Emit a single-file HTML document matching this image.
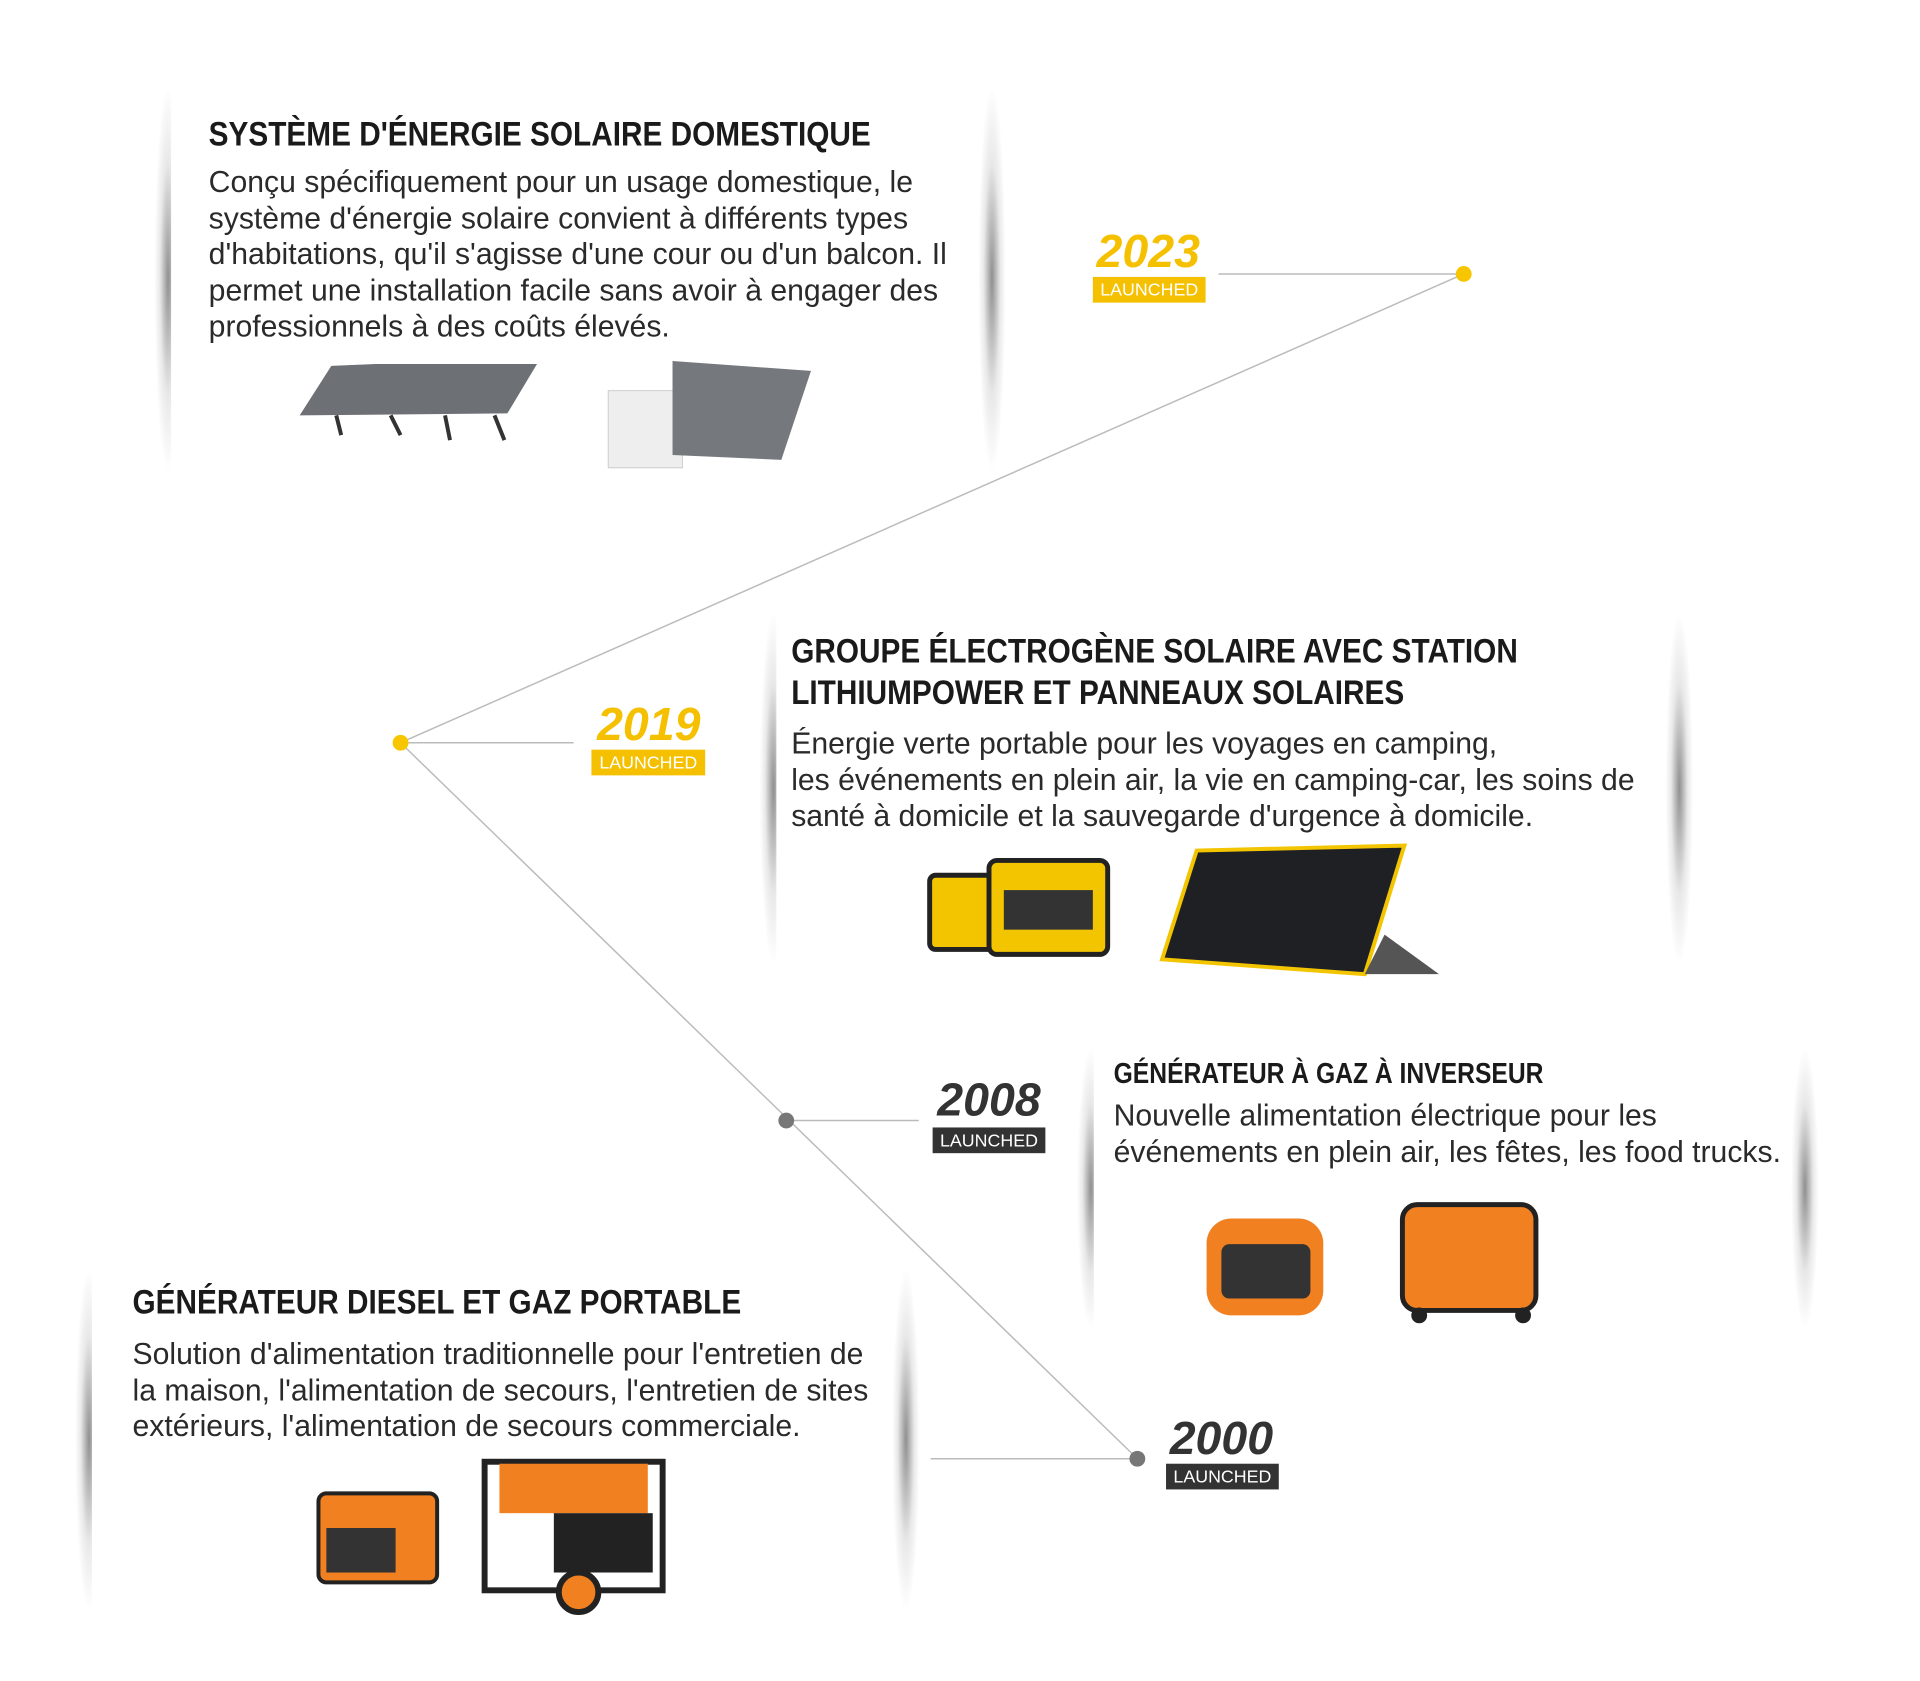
<!DOCTYPE html>
<html><head><meta charset="utf-8"><style>
*{margin:0;padding:0;box-sizing:border-box}
body{width:1920px;height:1680px;background:#fff;position:relative;overflow:hidden;font-family:"Liberation Sans",sans-serif;color:#222}
#w{position:absolute;left:0;top:0;width:1940px;height:1700px;transform:scale(0.989);transform-origin:0 0}
.card{position:absolute;background:#fff}
.card:before,.card:after{content:"";position:absolute;top:0;bottom:0;width:30px;background:radial-gradient(ellipse 14px 50% at 50% 50%,rgba(70,70,70,.6),rgba(140,140,140,.2) 60%,rgba(255,255,255,0) 100%)}
.card:before{left:-18px}.card:after{right:-18px}
.in{position:absolute;left:0;top:0;right:0;bottom:0;background:#fff}
.t{position:absolute;font-weight:bold;white-space:nowrap;transform:scaleX(.86);transform-origin:left top;color:#1a1a1a}
.b{position:absolute;font-size:30.5px;line-height:36.5px;white-space:nowrap;color:#2a2a2a}
.yr{position:absolute;font-weight:bold;font-style:italic;font-size:47px;line-height:44px;text-align:center}
.lb{position:absolute;color:#fff;font-size:18px;line-height:26px;text-align:center}
</style></head><body><div id="w">
<svg width="1940" height="1700" style="position:absolute;left:0;top:0">
<g stroke="#bbb" stroke-width="1.5" fill="none">
<line x1="1232" y1="277" x2="1480" y2="277"/>
<line x1="1480" y1="277" x2="405" y2="751"/>
<line x1="405" y1="751" x2="580" y2="751"/>
<line x1="405" y1="751" x2="1150" y2="1475"/>
<line x1="795" y1="1133" x2="929" y2="1133"/>
<line x1="941" y1="1475" x2="1150" y2="1475"/>
</g>
<circle cx="1480" cy="277" r="8" fill="#f7c600"/>
<circle cx="405" cy="751" r="8" fill="#f7c600"/>
<circle cx="795" cy="1133" r="8" fill="#777"/>
<circle cx="1150" cy="1475" r="8" fill="#777"/>
</svg>

<div class="card" style="left:173px;top:87px;width:827px;height:390px"><div class="in"></div></div>
<div class="card" style="left:785px;top:619px;width:910px;height:356px"><div class="in"></div></div>
<div class="card" style="left:1106px;top:1059px;width:716px;height:285px"><div class="in"></div></div>
<div class="card" style="left:93px;top:1282px;width:820px;height:347px"><div class="in"></div></div>

<div class="t" style="left:211px;top:116px;font-size:35px">SYSTÈME D'ÉNERGIE SOLAIRE DOMESTIQUE</div>
<div class="b" style="left:211px;top:166px">Conçu spécifiquement pour un usage domestique, le<br>système d'énergie solaire convient à différents types<br>d'habitations, qu'il s'agisse d'une cour ou d'un balcon. Il<br>permet une installation facile sans avoir à engager des<br>professionnels à des coûts élevés.</div>

<div class="t" style="left:800px;top:638px;font-size:35px;line-height:42px">GROUPE ÉLECTROGÈNE SOLAIRE AVEC STATION<br>LITHIUMPOWER ET PANNEAUX SOLAIRES</div>
<div class="b" style="left:800px;top:734px">Énergie verte portable pour les voyages en camping,<br>les événements en plein air, la vie en camping-car, les soins de<br>santé à domicile et la sauvegarde d'urgence à domicile.</div>

<div class="t" style="left:1126px;top:1070px;font-size:29px">GÉNÉRATEUR À GAZ À INVERSEUR</div>
<div class="b" style="left:1126px;top:1110px">Nouvelle alimentation électrique pour les<br>événements en plein air, les fêtes, les food trucks.</div>

<div class="t" style="left:134px;top:1297px;font-size:35px">GÉNÉRATEUR DIESEL ET GAZ PORTABLE</div>
<div class="b" style="left:134px;top:1351px">Solution d'alimentation traditionnelle pour l'entretien de<br>la maison, l'alimentation de secours, l'entretien de sites<br>extérieurs, l'alimentation de secours commerciale.</div>

<div class="yr" style="left:1100px;top:232px;width:122px;color:#f5c000">2023</div>
<div class="lb" style="left:1105px;top:280px;width:114px;background:#f5c000">LAUNCHED</div>
<div class="yr" style="left:595px;top:710px;width:122px;color:#f5c000">2019</div>
<div class="lb" style="left:598px;top:758px;width:115px;background:#f5c000">LAUNCHED</div>
<div class="yr" style="left:939px;top:1090px;width:122px;color:#333">2008</div>
<div class="lb" style="left:943px;top:1140px;width:114px;background:#333">LAUNCHED</div>
<div class="yr" style="left:1174px;top:1432px;width:122px;color:#333">2000</div>
<div class="lb" style="left:1179px;top:1480px;width:114px;background:#333">LAUNCHED</div>

<svg width="1940" height="1700" style="position:absolute;left:0;top:0">
<polygon points="335,370 380,368 543,368 513,418 303,420" fill="#6d7075"/>
<g stroke="#333" stroke-width="4"><line x1="340" y1="420" x2="345" y2="440"/><line x1="395" y1="420" x2="405" y2="440"/><line x1="450" y1="420" x2="455" y2="445"/><line x1="500" y1="420" x2="510" y2="445"/></g>
<rect x="615" y="395" width="75" height="78" fill="#eee" stroke="#ccc"/>
<polygon points="680,365 820,375 790,465 680,460" fill="#75787c"/>
<rect x="940" y="885" width="70" height="75" rx="6" fill="#f2c500" stroke="#222" stroke-width="5"/>
<rect x="1000" y="870" width="120" height="95" rx="8" fill="#f2c500" stroke="#222" stroke-width="5"/>
<rect x="1015" y="900" width="90" height="40" fill="#333"/>
<polygon points="1210,860 1420,855 1380,985 1175,970" fill="#1e2024" stroke="#f2c500" stroke-width="4"/>
<polygon points="1380,985 1400,945 1455,985" fill="#555"/>
<rect x="1220" y="1232" width="118" height="98" rx="25" fill="#f08020"/>
<rect x="1235" y="1258" width="90" height="55" rx="8" fill="#333"/>
<rect x="1418" y="1218" width="135" height="107" rx="15" fill="#f08020" stroke="#222" stroke-width="5"/>
<circle cx="1435" cy="1330" r="8" fill="#222"/><circle cx="1540" cy="1330" r="8" fill="#222"/>
<rect x="322" y="1510" width="120" height="90" rx="8" fill="#f08020" stroke="#222" stroke-width="4"/>
<rect x="330" y="1545" width="70" height="45" fill="#333"/>
<rect x="490" y="1478" width="180" height="130" fill="none" stroke="#222" stroke-width="6"/>
<rect x="505" y="1480" width="150" height="50" fill="#f08020"/>
<rect x="560" y="1530" width="100" height="60" fill="#222"/>
<circle cx="585" cy="1610" r="20" fill="#f08020" stroke="#222" stroke-width="6"/>
</svg>
</div></body></html>
